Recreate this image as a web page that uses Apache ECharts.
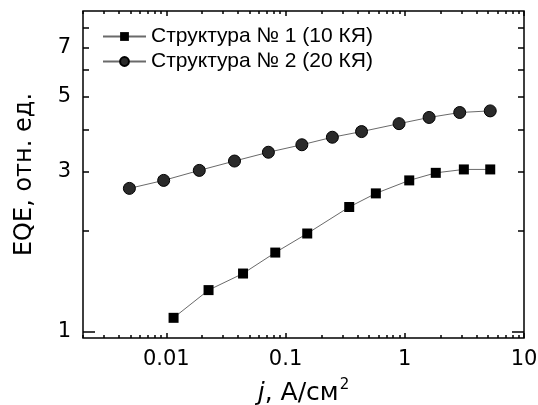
<!DOCTYPE html>
<html>
<head>
<meta charset="utf-8">
<title>EQE vs j</title>
<style>
  * { margin: 0; padding: 0; }
  body { background: #ffffff; width: 538px; height: 405px; overflow: hidden; }
  #chart { width: 538px; height: 405px; }
</style>
<script src="https://cdn.jsdelivr.net/npm/echarts@6/dist/echarts.min.js"></script>
</head>
<body>
<div id="chart"></div>
<script>
// данные
const s1Name = 'Структура № 1 (10 КЯ)';
const s1J = [0.0115, 0.0226, 0.044, 0.082, 0.152, 0.342, 0.572, 1.09, 1.82, 3.13, 5.21];
const s1EQE = [1.10, 1.33, 1.49, 1.72, 1.96, 2.35, 2.58, 2.82, 2.97, 3.04, 3.04];

const s2Name = 'Структура № 2 (20 КЯ)';
const s2J = [0.0049, 0.0095, 0.0189, 0.0373, 0.0718, 0.137, 0.247, 0.434, 0.895, 1.6, 2.89, 5.21];
const s2EQE = [2.67, 2.82, 3.02, 3.22, 3.42, 3.60, 3.79, 3.94, 4.16, 4.34, 4.49, 4.54];

const xLabels = [0.01, 0.1, 1, 10];
const yLabels = [1, 3, 5, 7];
const yMajorTicks = [1];
const yMinorTicks = [2, 3, 4, 5, 6, 7, 8];

// промежуточные деления логарифмической оси x (2..9 в каждой декаде)
const xMinorTicks = [];
[0.001, 0.01, 0.1, 1].forEach(d => {
  for (let m = 2; m <= 9; m++) {
    const v = +(d * m).toPrecision(3);
    if (v >= 0.002 && v < 10) xMinorTicks.push(v);
  }
});

const X_MIN = 0.002, X_MAX = 10;
const Y_MIN = 0.958, Y_MAX = 9;
const FONT = "'DejaVu Sans', sans-serif";
const LEGEND_FONT = "'Liberation Sans', Arial, sans-serif";

function zip(a, b) {
  return a.map((v, i) => [v, b[i]]);
}

// ось x: основная + скрытые оси только для делений
function xAxis(position, ticks, len, labels) {
  return {
    type: 'log', logBase: 10, min: X_MIN, max: X_MAX, position: position,
    axisLine: { show: false },
    splitLine: { show: false },
    axisTick: { show: true, inside: true, length: len, customValues: ticks,
      lineStyle: { color: '#000', width: 1.5 } },
    axisLabel: labels ? { show: true, customValues: labels, color: '#000',
      fontSize: 21, fontFamily: FONT, margin: 11 } : { show: false },
    silent: true
  };
}

function yAxis(position, ticks, len, labels) {
  return {
    type: 'log', logBase: 10, min: Y_MIN, max: Y_MAX, position: position,
    axisLine: { show: false },
    splitLine: { show: false },
    axisTick: { show: true, inside: true, length: len, customValues: ticks,
      lineStyle: { color: '#000', width: 1.5 } },
    axisLabel: labels ? { show: true, customValues: labels, color: '#000',
      fontSize: 21, fontFamily: FONT, margin: 12 } : { show: false },
    silent: true
  };
}

const chart = echarts.init(document.getElementById('chart'), null, { renderer: 'canvas' });

const xMain = xAxis('bottom', xLabels, 5, xLabels);
xMain.name = '{i|j}, А/см{sup|2}';
xMain.nameLocation = 'middle';
xMain.nameGap = 40;
xMain.nameTextStyle = {
  color: '#000', fontSize: 25, fontFamily: FONT,
  rich: {
    i: { fontStyle: 'italic', fontSize: 25, fontFamily: FONT, color: '#000' },
    sup: { fontSize: 15, fontFamily: FONT, color: '#000', verticalAlign: 'top', padding: [0, 0, 16, 1] }
  }
};

const yMain = yAxis('left', yMajorTicks, 12, yLabels);
yMain.name = 'EQE, отн. ед.';
yMain.nameLocation = 'middle';
yMain.nameGap = 46;
yMain.nameTextStyle = { color: '#000', fontSize: 24, fontFamily: FONT };

const option = {
  backgroundColor: '#ffffff',
  animation: false,
  grid: {
    left: 83, right: 14, top: 11, bottom: 67,
    outerBoundsMode: 'none',
    containLabel: false,
    show: true, borderColor: '#000', borderWidth: 1.5, backgroundColor: 'transparent'
  },
  legend: {
    orient: 'vertical',
    left: 97, top: 21,
    itemWidth: 43, itemHeight: 11, itemGap: 4,
    textStyle: { color: '#000', fontSize: 21, fontFamily: LEGEND_FONT },
    data: [s1Name, s2Name]
  },
  xAxis: [
    xMain,
    xAxis('bottom', xMinorTicks, 3, null),
    xAxis('top', xLabels, 5, null),
    xAxis('top', xMinorTicks, 3, null)
  ],
  yAxis: [
    yMain,
    yAxis('left', yMinorTicks, 6, null),
    yAxis('right', yMajorTicks, 12, null),
    yAxis('right', yMinorTicks, 6, null)
  ],
  series: [
    {
      name: s1Name, type: 'line', xAxisIndex: 0, yAxisIndex: 0,
      data: zip(s1J, s1EQE),
      symbol: 'rect', symbolSize: 10,
      lineStyle: { color: '#6a6a6a', width: 1 },
      itemStyle: { color: '#000', borderColor: '#000', borderWidth: 0 }
    },
    {
      name: s2Name, type: 'line', xAxisIndex: 0, yAxisIndex: 0,
      data: zip(s2J, s2EQE),
      symbol: 'circle', symbolSize: 12,
      lineStyle: { color: '#6a6a6a', width: 1 },
      itemStyle: { color: '#2a2a2a', borderColor: '#000', borderWidth: 1 }
    }
  ]
};

chart.setOption(option);
</script>
</body>
</html>
